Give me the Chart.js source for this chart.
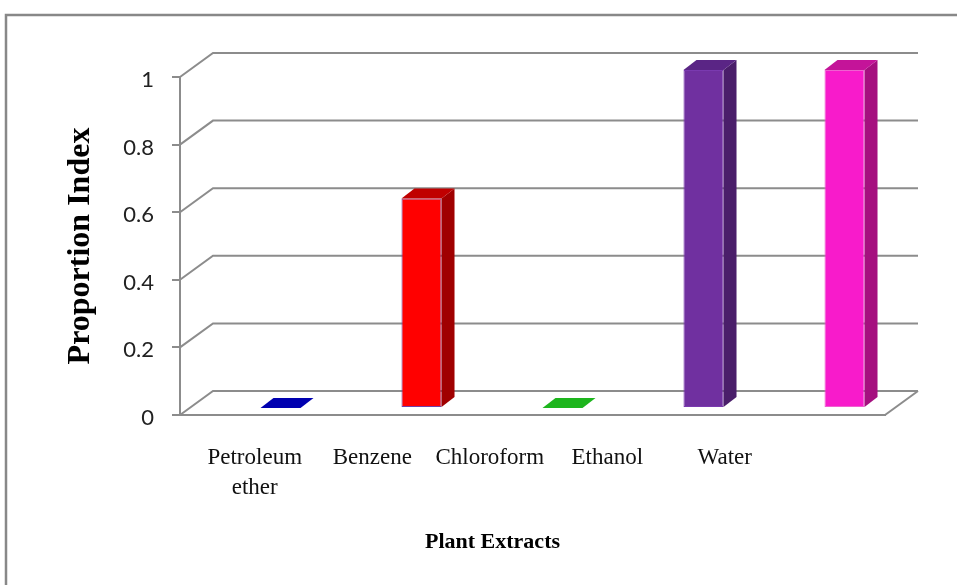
<!DOCTYPE html>
<html>
<head>
<meta charset="utf-8">
<script src="https://cdn.jsdelivr.net/npm/chart.js@4.4.1/dist/chart.umd.min.js"></script>
<style>
  html, body { margin: 0; padding: 0; background: #fff; }
  #wrap { width: 957px; height: 585px; }
</style>
</head>
<body>
<div id="wrap"><canvas id="chart" width="957" height="585"></canvas></div>
<script>
// chart data
const CATEGORIES = [['Petroleum', 'ether'], 'Benzene', 'Chloroform', 'Ethanol', 'Water'];
const VALUES = [0, 0.62, 0, 1, 1];
const Y_TICKS = [0, 0.2, 0.4, 0.6, 0.8, 1];

// colours for each bar: front, side, top faces
const FRONT = ['#0000F0', '#FF0000', '#00C000', '#7030A0', '#F81BCB'];
const SIDE = ['#00008A', '#A00000', '#008800', '#4A1E6A', '#A5107F'];
const TOP = ['#0000B0', '#C00000', '#1DB51D', '#5A2585', '#C41499'];
const EDGE = ['#0000B0', '#7040A8', '#1DB51D', '#7A3AB0', '#F060D0'];

const GRID = '#8c8c8c';
const WALL = { dx: 33, dy: -24 };     // depth of the back wall
const SHIFT = { dx: 30, dy: -7 };     // where the bars stand on the floor
const BAR_DEPTH = { dx: 13, dy: -10 };

// white page + grey frame on the top/left
const framePlugin = {
  id: 'frame',
  beforeDraw(chart) {
    const ctx = chart.ctx;
    ctx.save();
    ctx.fillStyle = '#fff';
    ctx.fillRect(0, 0, chart.width, chart.height);
    ctx.strokeStyle = '#888';
    ctx.lineWidth = 2.5;
    ctx.beginPath();
    ctx.moveTo(6, chart.height + 5);
    ctx.lineTo(6, 15);
    ctx.lineTo(chart.width + 5, 15);
    ctx.stroke();
    ctx.restore();
  }
};

// back wall gridlines, floor and the 3D faces of the bars
const boxPlugin = {
  id: 'box3d',
  beforeDatasetsDraw(chart) {
    const ctx = chart.ctx;
    const y = chart.scales.y;
    const { left, right, bottom } = chart.chartArea;
    ctx.save();
    ctx.strokeStyle = GRID;
    ctx.lineWidth = 2;
    y.ticks.forEach(t => {
      const py = y.getPixelForValue(t.value);
      ctx.beginPath();
      ctx.moveTo(left, py);
      ctx.lineTo(left + WALL.dx, py + WALL.dy);
      ctx.lineTo(right + WALL.dx, py + WALL.dy);
      ctx.stroke();
    });
    // right edge of the floor
    ctx.beginPath();
    ctx.moveTo(right, bottom);
    ctx.lineTo(right + WALL.dx, bottom + WALL.dy);
    ctx.stroke();
    ctx.restore();

    // bars are drawn a bit back on the floor
    ctx.save();
    ctx.translate(SHIFT.dx, SHIFT.dy);
  },
  afterDatasetsDraw(chart) {
    const ctx = chart.ctx;
    const meta = chart.getDatasetMeta(0);
    meta.data.forEach((bar, i) => {
      const { x, y, base, width } = bar.getProps(['x', 'y', 'base', 'width'], true);
      const l = x - width / 2, r = x + width / 2;
      const dx = BAR_DEPTH.dx, dy = BAR_DEPTH.dy;
      // side
      if (base - y > 0.5) {
        ctx.fillStyle = SIDE[i];
        ctx.beginPath();
        ctx.moveTo(r, y);
        ctx.lineTo(r + dx, y + dy);
        ctx.lineTo(r + dx, base + dy);
        ctx.lineTo(r, base);
        ctx.closePath();
        ctx.fill();
      }
      // top
      ctx.fillStyle = TOP[i];
      ctx.beginPath();
      ctx.moveTo(l, y);
      ctx.lineTo(l + dx, y + dy);
      ctx.lineTo(r + dx, y + dy);
      ctx.lineTo(r, y);
      ctx.closePath();
      ctx.fill();
    });
    ctx.restore();

    // x axis title
    const a = chart.chartArea;
    ctx.save();
    ctx.fillStyle = '#000';
    ctx.font = 'bold 22px "Liberation Serif", "Times New Roman", serif';
    ctx.textAlign = 'center';
    ctx.textBaseline = 'alphabetic';
    ctx.fillText('Plant Extracts', (a.left + a.right) / 2 - 40, 548);
    ctx.restore();
  }
};

const ctx = document.getElementById('chart').getContext('2d');
new Chart(ctx, {
  type: 'bar',
  data: {
    labels: CATEGORIES,
    datasets: [{
      data: VALUES,
      backgroundColor: FRONT,
      borderColor: EDGE,
      borderWidth: 1,
      borderSkipped: false,
      barPercentage: 0.284,
      categoryPercentage: 1,
      clip: false
    }]
  },
  options: {
    responsive: false,
    animation: false,
    layout: { padding: { left: 58, right: 72, top: 77, bottom: 80 } },
    plugins: {
      legend: { display: false },
      tooltip: { enabled: false }
    },
    scales: {
      x: {
        position: 'bottom',
        weight: 0,
        offset: true,
        grid: { display: false, drawTicks: false },
        border: { display: true, color: GRID, width: 2 },
        ticks: { display: false },
        afterFit: s => { s.height = 0; }
      },
      // label axis: Excel put the category names on a narrower spacing than the bars
      xLab: {
        type: 'category',
        position: 'bottom',
        weight: 1,
        labels: [...CATEGORIES, ''],
        offset: true,
        grid: { display: false, drawTicks: false },
        border: { display: false },
        ticks: {
          autoSkip: false,
          maxRotation: 0,
          padding: 28,
          labelOffset: 16,
          color: '#111',
          font: { family: '"Liberation Serif", "Times New Roman", serif', size: 23, lineHeight: 1.3 }
        },
        afterFit: s => { s.height = 90; }
      },
      y: {
        min: 0,
        max: 1,
        afterBuildTicks: s => { s.ticks = Y_TICKS.map(v => ({ value: v })); },
        grid: { drawOnChartArea: false, drawTicks: true, tickLength: 8, color: GRID, lineWidth: 2 },
        border: { display: true, color: GRID, width: 2 },
        ticks: {
          padding: 18,
          labelOffset: 3,
          color: '#222',
          font: { family: 'Lato, "Open Sans", sans-serif', size: 22 },
          callback: v => String(Math.round(v * 10) / 10)
        },
        title: {
          display: true,
          text: 'Proportion Index',
          color: '#000',
          font: { family: '"Liberation Serif", "Times New Roman", serif', size: 32, weight: 'bold' }
        },
        afterFit: s => { s.width = 122; }
      }
    }
  },
  plugins: [framePlugin, boxPlugin]
});
</script>
</body>
</html>
